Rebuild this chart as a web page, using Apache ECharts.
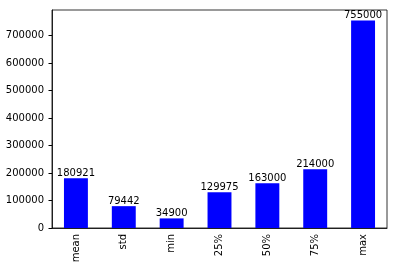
<!DOCTYPE html>
<html><head><meta charset="utf-8">
<script src="https://cdn.jsdelivr.net/npm/echarts@6/dist/echarts.min.js"></script>
<style>html,body{margin:0;padding:0;background:#fff}#c{width:397px;height:270px}</style>
</head><body><div id="c"></div>
<script>
const categories = ['mean','std','min','25%','50%','75%','max'];
const values = [180921, 79442, 34900, 129975, 163000, 214000, 755000];
const yTicks = [0,100000,200000,300000,400000,500000,600000,700000];

const chart = echarts.init(document.getElementById('c'), null, {renderer:'canvas'});
const font = 'DejaVu Sans';
chart.setOption({
  animation:false,
  grid:{left:52,right:10,top:10,bottom:42,show:true,borderColor:'#000',borderWidth:0.8,backgroundColor:'transparent'},
  xAxis:{type:'category',data:categories,
    axisLine:{lineStyle:{color:'#000',width:0.8}},
    axisTick:{alignWithLabel:true,length:3.5,lineStyle:{color:'#000'}},
    axisLabel:{rotate:90,color:'#000',fontFamily:font,fontSize:10,margin:6,interval:0}},
  yAxis:{type:'value',min:0,max:Math.max(...values)*1.05,interval:100000,
    splitLine:{show:false},
    axisLine:{show:true,lineStyle:{color:'#000',width:0.8}},
    axisTick:{show:true,length:3.5,lineStyle:{color:'#000'}},
    axisLabel:{color:'#000',fontFamily:font,fontSize:10,margin:8,showMaxLabel:false,
      formatter:v=>yTicks.includes(v)?String(v):''}},
  series:[{type:'bar',data:values,barWidth:'50%',itemStyle:{color:'#0000ff'},
    label:{show:true,position:'top',distance:0,color:'#000',fontFamily:font,fontSize:10}}]
});
</script></body></html>
